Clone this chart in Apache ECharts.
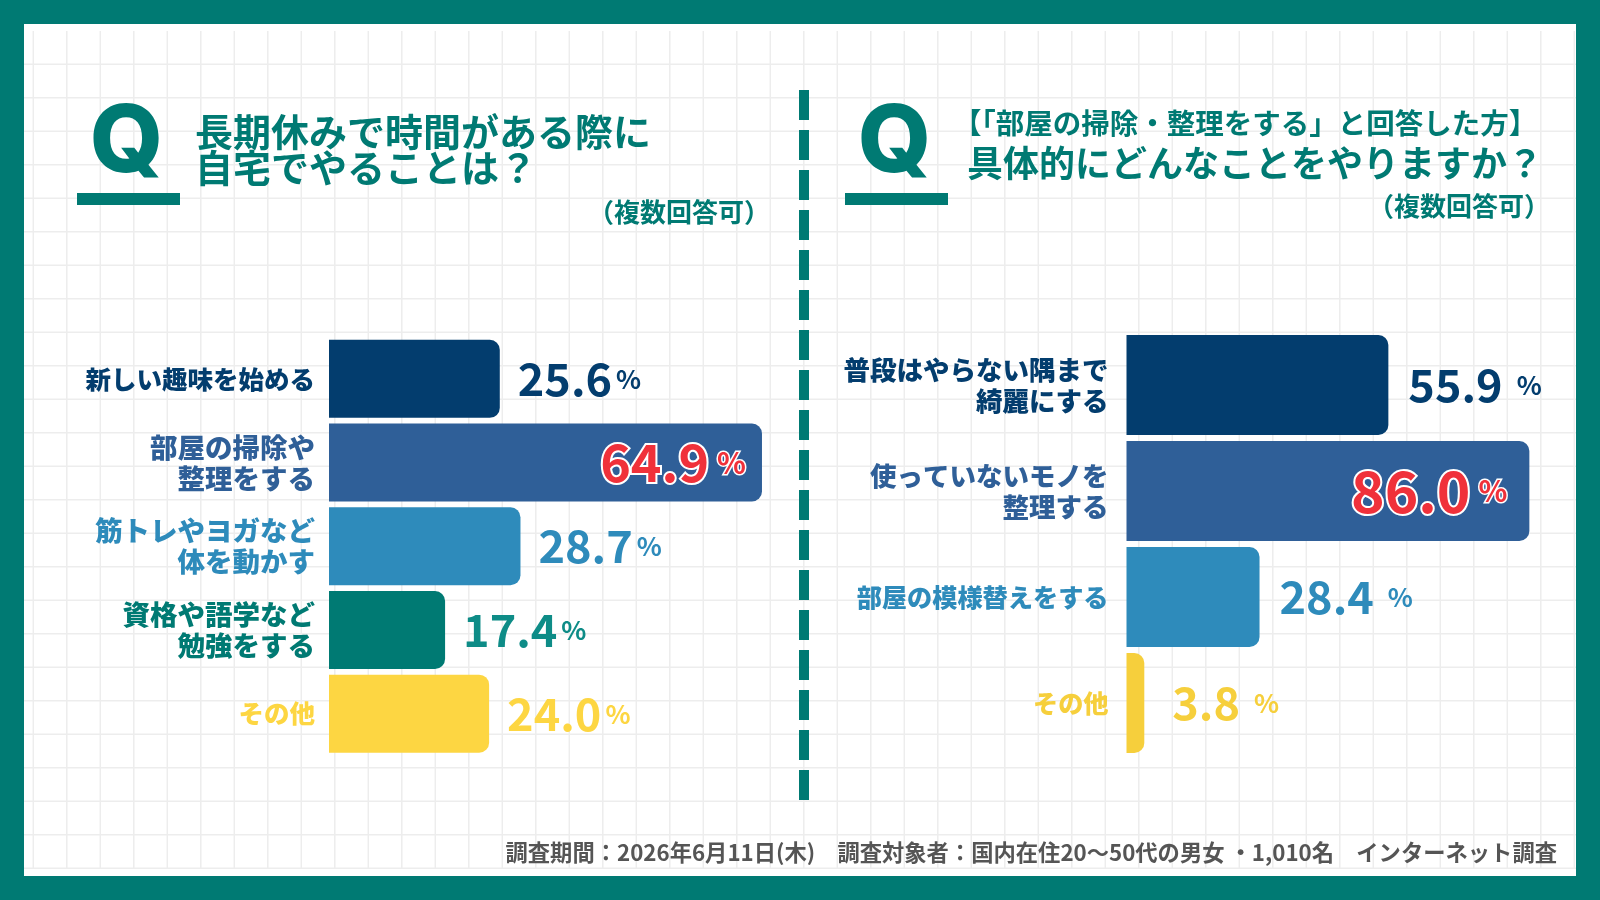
<!DOCTYPE html>
<html>
<head>
<meta charset="utf-8">
<title>長期休みに自宅でやること</title>
<script src="https://cdn.jsdelivr.net/npm/echarts@6/dist/echarts.min.js"></script>
<style>
    html, body { margin: 0; padding: 0; background: #007A73; }
    #main { width: 1600px; height: 900px; }
</style>
</head>
<body>
<div id="main"></div>
<script>
'use strict';

// 左：長期休みで時間がある際に自宅でやることは？
var leftCategories = ['新しい趣味を始める', '部屋の掃除や\n整理をする', '筋トレやヨガなど\n体を動かす', '資格や語学など\n勉強をする', 'その他'];
var leftValues = [25.6, 64.9, 28.7, 17.4, 24.0];

// 右：部屋の掃除・整理をすると回答した方
var rightCategories = ['普段はやらない隅まで\n綺麗にする', '使っていないモノを\n整理する', '部屋の模様替えをする', 'その他'];
var rightValues = [55.9, 86.0, 28.4, 3.8];

// 色
var TEAL = '#007A73';
var RED = '#F0313A';
var FONT = '"Noto Sans CJK JP", "Noto Sans", sans-serif';
var leftColors = ['#033D6E', '#2F5F98', '#2E8BBB', '#007A73', '#FDD642'];
var leftValueColors = ['#033D6E', '#2F5F98', '#2E8BBB', '#0E8C87', '#FDD642'];
var rightColors = ['#033D6E', '#2F5F98', '#2E8BBB', '#F6CF3C'];
var rightValueColors = ['#033D6E', '#2F5F98', '#2E8BBB', '#F6CF3C'];

var chart = echarts.init(document.getElementById('main'));

// バーのデータ（最大値だけ赤字でバーの内側に表示）
function buildData(values, colors, valueColors, opt) {
    var max = Math.max.apply(null, values);
    return values.map(function (v, i) {
        var txt = '{n|' + v.toFixed(1) + '}{p|%}';
        var label;
        if (v === max) {
            label = {
                show: true,
                position: 'insideRight',
                distance: opt.inDist,
                formatter: txt,
                rich: {
                    n: {fontSize: opt.redSize, fontWeight: 'bold', fontFamily: FONT, color: RED,
                        textBorderColor: '#fff', textBorderWidth: 4},
                    p: {fontSize: 30, fontWeight: 'bold', fontFamily: FONT, color: RED,
                        textBorderColor: '#fff', textBorderWidth: 3, padding: [0, 0, 0, 8]}
                }
            };
        } else {
            label = {
                show: true,
                position: 'right',
                distance: v < 5 ? 28 : opt.dist,
                formatter: txt,
                rich: {
                    n: {fontSize: 45, fontWeight: 'bold', fontFamily: FONT, color: valueColors[i]},
                    p: {fontSize: 26, fontWeight: 'bold', fontFamily: FONT, color: valueColors[i],
                        padding: [0, 0, 0, opt.pctGap]}
                }
            };
        }
        return {
            value: v,
            itemStyle: {color: colors[i], borderRadius: [0, 10, 10, 0]},
            label: label
        };
    });
}

// 背景の方眼
var bgElements = [{
    type: 'rect', z: -100, silent: true,
    shape: {x: 24, y: 24, width: 1552, height: 852},
    style: {fill: '#fff'}
}];
for (var gx = 33.3; gx < 1576; gx += 33.5) {
    bgElements.push({
        type: 'line', z: -90, silent: true,
        shape: {x1: gx, y1: 31, x2: gx, y2: 868},
        style: {stroke: '#EDEDED', lineWidth: 1.5}
    });
}
for (var gy = 64.3; gy < 870; gy += 33.5) {
    bgElements.push({
        type: 'line', z: -90, silent: true,
        shape: {x1: 24, y1: gy, x2: 1576, y2: gy},
        style: {stroke: '#EDEDED', lineWidth: 1.5}
    });
}

function qMark(cx, barX) {
    return [{
        type: 'text', z: 10, silent: true,
        x: cx, y: 144,
        style: {text: 'Q', fontSize: 94, fontWeight: 800, fontFamily: 'Inter, "Liberation Sans", sans-serif',
            fill: TEAL, align: 'center', verticalAlign: 'middle'}
    }, {
        type: 'rect', z: 10, silent: true,
        shape: {x: barX, y: 193, width: 103, height: 12},
        style: {fill: TEAL}
    }];
}

function txt(x, y, text, size, align, color, weight) {
    return {
        type: 'text', z: 10, silent: true,
        x: x, y: y,
        style: {text: text, fontSize: size, fontWeight: weight || 'bold', fontFamily: FONT,
            fill: color || TEAL, align: align || 'left', verticalAlign: 'middle'}
    };
}

var fgElements = [
    // 中央の点線
    {
        type: 'line', z: 10, silent: true,
        shape: {x1: 804, y1: 90, x2: 804, y2: 800},
        style: {stroke: TEAL, lineWidth: 10, lineDash: [30, 10]}
    },
    txt(195, 132, '長期休みで時間がある際に', 38),
    txt(195, 168, '自宅でやることは？', 38),
    txt(770, 212, '（複数回答可）', 26, 'right'),
    txt(953, 123, '【「部屋の掃除・整理をする」と回答した方】', 28.5),
    txt(967, 163, '具体的にどんなことをやりますか？', 36),
    txt(1550, 206, '（複数回答可）', 26, 'right'),
    txt(1557, 853, '調査期間：2026年6月11日(木)　調査対象者：国内在住20〜50代の男女 ・1,010名　インターネット調査', 22.3, 'right', '#555555', 'bold')
].concat(qMark(126.5, 77), qMark(894.5, 845));

// 1行ラベルは少し小さく、2行ラベルは大きめ
function catLabel(colors, margin, single, double) {
    return {
        margin: margin,
        fontWeight: 900,
        fontFamily: FONT,
        align: 'right',
        color: function (value, index) {
            return colors[index];
        },
        formatter: function (value) {
            var lines = value.split('\n');
            var key = lines.length > 1 ? 'd' : 's';
            return lines.map(function (l) {
                return '{' + key + '|' + l + '}';
            }).join('\n');
        },
        rich: {
            s: {fontSize: single, fontWeight: 900, fontFamily: FONT, lineHeight: 32},
            d: {fontSize: double, fontWeight: 900, fontFamily: FONT, lineHeight: 31}
        }
    };
}

var option = {
    backgroundColor: TEAL,
    animation: false,
    graphic: {elements: bgElements.concat(fgElements)},
    grid: [
        {left: 329, top: 337, width: 467, height: 418.5},
        {left: 1126.5, top: 332, width: 421.6, height: 424}
    ],
    xAxis: [
        {gridIndex: 0, type: 'value', min: 0, max: 70, show: false},
        {gridIndex: 1, type: 'value', min: 0, max: 90, show: false}
    ],
    yAxis: [
        {
            gridIndex: 0, type: 'category', inverse: true, data: leftCategories,
            axisLine: {show: false}, axisTick: {show: false}, splitLine: {show: false},
            axisLabel: catLabel(leftColors, 14, 25.5, 27.5)
        },
        {
            gridIndex: 1, type: 'category', inverse: true, data: rightCategories,
            axisLine: {show: false}, axisTick: {show: false}, splitLine: {show: false},
            axisLabel: catLabel(rightColors, 18, 25.2, 26.5)
        }
    ],
    series: [
        {
            type: 'bar', xAxisIndex: 0, yAxisIndex: 0, barWidth: 78,
            data: buildData(leftValues, leftColors, leftValueColors,
                {dist: 18, inDist: 16, redSize: 52, pctGap: 4})
        },
        {
            type: 'bar', xAxisIndex: 1, yAxisIndex: 1, barWidth: 100,
            data: buildData(rightValues, rightColors, rightValueColors,
                {dist: 20, inDist: 22, redSize: 57, pctGap: 14})
        }
    ]
};

chart.setOption(option);
</script>
</body>
</html>
